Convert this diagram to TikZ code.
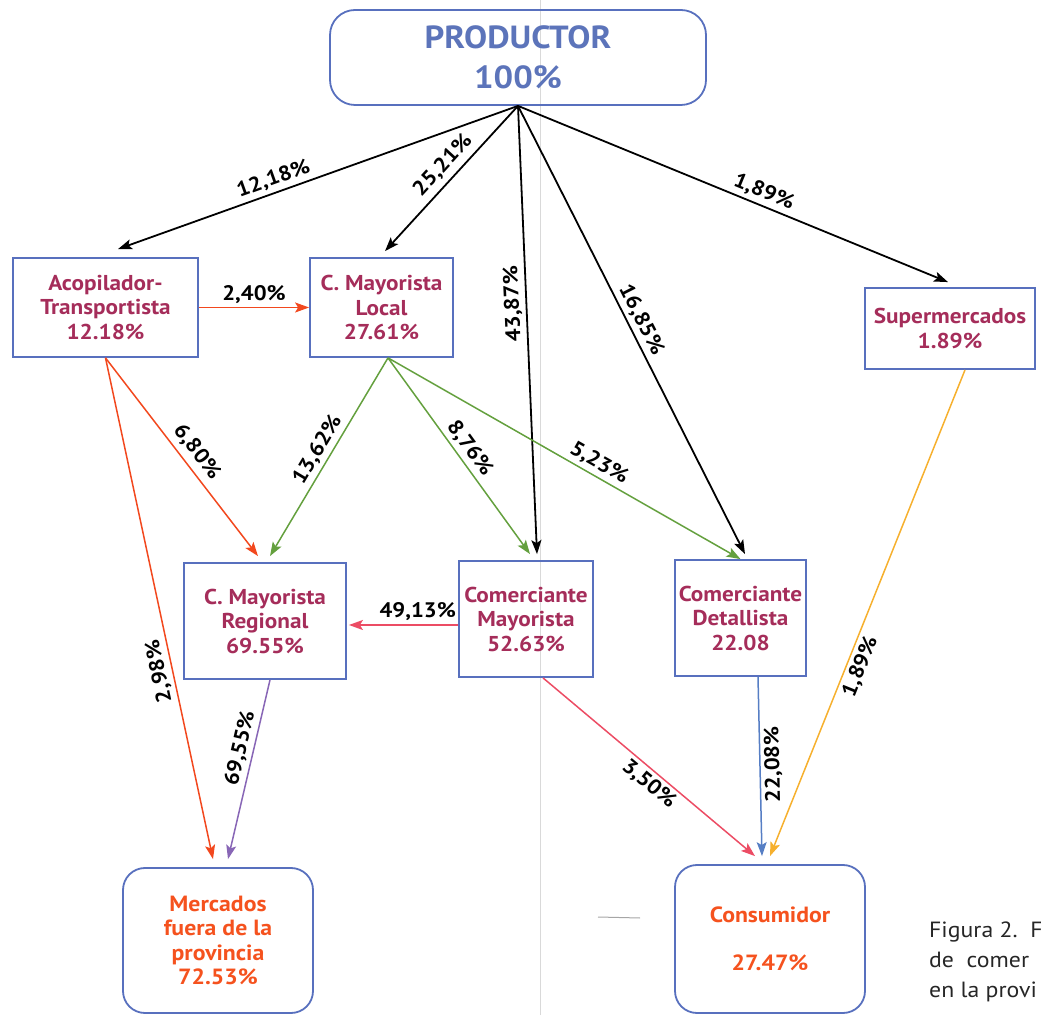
\documentclass[tikz,border=0pt]{standalone}
\usepackage{fontspec}
\setmainfont{PT Sans}[FakeStretch=1.08]
\usetikzlibrary{arrows.meta}
\definecolor{boxline}{RGB}{88,112,190}
\definecolor{boxtext}{RGB}{165,45,90}
\definecolor{prodtext}{RGB}{92,116,186}
\definecolor{endtext}{RGB}{245,82,30}
\definecolor{acopred}{RGB}{242,72,30}
\definecolor{locgreen}{RGB}{100,160,62}
\definecolor{maypink}{RGB}{236,76,100}
\definecolor{regviolet}{RGB}{136,102,182}
\definecolor{detblue}{RGB}{86,126,196}
\definecolor{supamber}{RGB}{246,176,46}
\begin{document}
\begin{tikzpicture}[x=1pt,y=1pt,>={Stealth[length=14pt,width=10pt,inset=3pt]},
  cbox/.style={draw=boxline,line width=1.8pt,align=center,inner sep=0pt,text=boxtext,font=\fontsize{21.5}{24.5}\selectfont\bfseries},
  endbox/.style={cbox,rounded corners=22pt,text=endtext,font=\fontsize{22}{24.5}\selectfont\bfseries},
  lbl/.style={font=\fontsize{21}{24}\selectfont\bfseries,text=black,inner sep=3.5pt},
  blk/.style={->,line width=1.8pt,black},
  flow/.style={->,line width=1.5pt,draw=#1}]
\useasboundingbox (0,0) rectangle (1041,1015);
\draw [black!15,line width=0.8pt] (540,0) -- (540,1015);
\draw [black!35,line width=1pt] (598,98) -- (640,97);
\node (prod) [cbox,rounded corners=25pt,minimum width=376pt,minimum height=95pt,text=prodtext,font=\fontsize{32}{40}\selectfont\bfseries] at (518,957.5) {PRODUCTOR\\100\%};
\node (acop) [cbox,minimum width=185pt,minimum height=99pt] at (105.5,707.5) {Acopilador-\\Transportista\\12.18\%};
\node (mloc) [cbox,minimum width=143pt,minimum height=99pt] at (381.5,707.5) {C. Mayorista\\Local\\27.61\%};
\node (super) [cbox,minimum width=170pt,minimum height=81pt] at (950,686.5) {Supermercados\\1.89\%};
\node (mreg) [cbox,minimum width=162pt,minimum height=116pt] at (265,394) {C. Mayorista\\Regional\\69.55\%};
\node (cmay) [cbox,minimum width=134pt,minimum height=116pt] at (526,396) {Comerciante\\Mayorista\\52.63\%};
\node (cdet) [cbox,minimum width=131pt,minimum height=116pt] at (740.5,397) {Comerciante\\Detallista\\22.08};
\node (merc) [endbox,minimum width=190pt,minimum height=145pt] at (218,74.5) {Mercados\\fuera de la\\provincia\\72.53\%};
\node (cons) [endbox,minimum width=190pt,minimum height=148pt,font=\fontsize{22}{48}\selectfont\bfseries] at (770,76) {Consumidor\\27.47\%};
\node (fig) [anchor=north west,align=left,inner sep=0pt,text=black!85,font=\fontsize{22}{30}\selectfont] at (929,93) {Figura 2.~~F\\de~~comer\\en la provi};
\draw [blk] (prod.south) -- node [lbl,sloped,above,pos=0.6] {12,18\%} ([shift={(12.5,8)}]acop.north);
\draw [blk] (prod.south) -- node [lbl,sloped,above=2pt,pos=0.48] {25,21\%} ([shift={(3.5,6)}]mloc.north);
\draw [blk] (prod.south) -- node [lbl,rotate=92.6,above,pos=0.44] {43,87\%} ([shift={(11,6)}]cmay.north);
\draw [blk] (prod.south) -- node [lbl,sloped,above,pos=0.49] {16,85\%} ([shift={(4.5,5)}]cdet.north);
\draw [blk] (prod.south) -- node [lbl,sloped,above,pos=0.56] {1,89\%} ([shift={(-2,5)}]super.north);
\draw [flow=acopred] (acop.east) -- node [lbl,above] {2,40\%} (mloc.west);
\draw [flow=acopred] (acop.south) -- node [lbl,sloped,above=2pt,pos=0.52] {6,80\%} ([shift={(-7,6)}]mreg.north);
\draw [flow=acopred] (acop.south) -- node [lbl,rotate=102,above,pos=0.62] {2,98\%} ([shift={(-5,8)}]merc.north);
\draw [flow=locgreen] ([xshift=6.5pt]mloc.south) -- node [lbl,sloped,above,pos=0.5] {13,62\%} ([shift={(5,6)}]mreg.north);
\draw [flow=locgreen] ([xshift=6.5pt]mloc.south) -- node [lbl,sloped,above,pos=0.5] {8,76\%} ([shift={(4,6)}]cmay.north);
\draw [flow=locgreen] ([xshift=6.5pt]mloc.south) -- node [lbl,sloped,above,pos=0.58] {5,23\%} (cdet.north);
\draw [flow=maypink] ([yshift=-6pt]cmay.west) -- node [lbl,above,pos=0.37] {49,13\%} ([shift={(2,-4)}]mreg.east);
\draw [flow=regviolet] ([xshift=5pt]mreg.south) -- node [lbl,sloped,above,pos=0.4] {69,55\%} ([shift={(10,8)}]merc.north);
\draw [flow=maypink] ([xshift=17pt]cmay.south) -- node [lbl,sloped,below,pos=0.54] {3,50\%} ([shift={(-15,8)}]cons.north);
\draw [flow=detblue] ([xshift=17.5pt]cdet.south) -- node [lbl,rotate=91.3,below,pos=0.49] {22,08\%} ([shift={(-8,8)}]cons.north);
\draw [flow=supamber] ([xshift=15pt]super.south) -- node [lbl,sloped,below,pos=0.6] {1,89\%} ([shift={(0,8)}]cons.north);
\end{tikzpicture}
\end{document}
